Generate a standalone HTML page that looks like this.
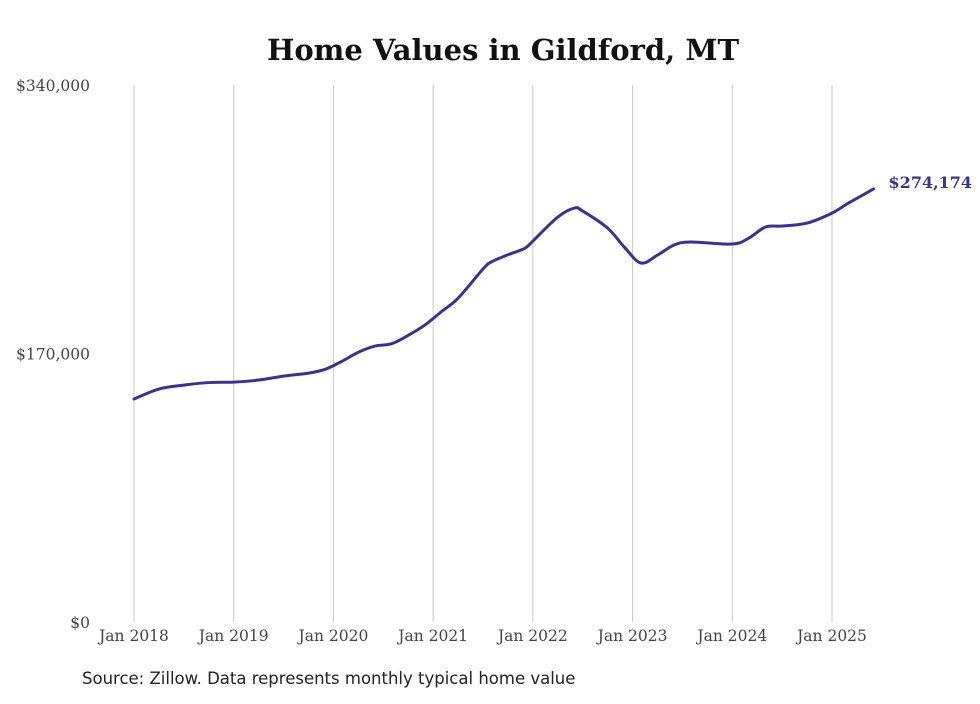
<!DOCTYPE html>
<html><head><meta charset="utf-8"><style>
body{margin:0;background:#fff;width:980px;height:699px;overflow:hidden}
svg text{font-family:"DejaVu Serif","Liberation Serif",serif}
</style></head><body>
<svg id="chart" width="980" height="699" viewBox="0 0 980 699">
<text x="503" y="60" text-anchor="middle" font-size="29" font-weight="bold" fill="#111">Home Values in Gildford, MT</text>
<g id="grid"></g><g id="yaxis"></g><g id="xaxis"></g><g id="series"></g>
<text x="82" y="684" font-size="16.5" fill="#222" style="font-family:'DejaVu Sans','Liberation Sans',sans-serif">Source: Zillow. Data represents monthly typical home value</text>
</svg>
<script>
const monthIdx=[0,3,6,9,12,15,18,21,23,25,27,29,31,33,35,37,39,42,43,45,47,48,51,53,54,57,59,61,63,65,67,72,74,76,78,81,84,86,89];
const values=[141200,147500,150000,151600,151900,153200,155700,157600,160000,165000,170800,174700,176200,181500,188000,196500,205000,223500,228000,232500,236500,241200,256400,262100,260200,249400,237400,227300,232300,238700,240600,239300,243100,250100,250700,252600,258900,265300,274174];
const yTicks=[0,170000,340000];
const yTickLabels=["$0","$170,000","$340,000"];
const xTickMonths=[0,12,24,36,48,60,72,84];
const xTickLabels=["Jan 2018","Jan 2019","Jan 2020","Jan 2021","Jan 2022","Jan 2023","Jan 2024","Jan 2025"];
const lastLabel="$274,174";
const NS="http://www.w3.org/2000/svg";
const X=m=>134+m*(698/84);
const Y=v=>622-v/340000*537;
function mk(t,a,p){const e=document.createElementNS(NS,t);for(const k in a)e.setAttribute(k,a[k]);p.appendChild(e);return e;}
const grid=document.getElementById('grid'),xa=document.getElementById('xaxis'),ya=document.getElementById('yaxis'),se=document.getElementById('series');
xTickMonths.forEach((m,i)=>{
 const l=mk('line',{x1:X(m),x2:X(m),y1:85,y2:622,stroke:'#c8c8c8','stroke-width':1},grid);
 
 
 const t=mk('text',{x:X(m),y:641,'text-anchor':'middle','font-size':15.5,fill:'#444'},xa);
 t.textContent=xTickLabels[i];
 
 
});
yTicks.forEach((v,i)=>{
 const t=mk('text',{x:90,y:Y(v)+6,'text-anchor':'end','font-size':15.5,fill:'#444'},ya);
 t.textContent=yTickLabels[i];
 
 
});
const pts=monthIdx.map((m,i)=>[X(m),Y(values[i])]);
let d='M'+pts[0][0]+','+pts[0][1];
for(let i=0;i<pts.length-1;i++){
 const p0=pts[Math.max(0,i-1)],p1=pts[i],p2=pts[i+1],p3=pts[Math.min(pts.length-1,i+2)];
 const k=6;
 d+=' C'+(p1[0]+(p2[0]-p0[0])/k)+','+(p1[1]+(p2[1]-p0[1])/k)+' '+(p2[0]-(p3[0]-p1[0])/k)+','+(p2[1]-(p3[1]-p1[1])/k)+' '+p2[0]+','+p2[1];
}
const path=mk('path',{d:d,fill:'none',stroke:'#3a309a','stroke-width':3,'stroke-linejoin':'round','stroke-linecap':'round'},se);


const last=pts[pts.length-1];
const lt=mk('text',{x:last[0]+15,y:last[1]-1,'font-size':16,'font-weight':'bold',fill:'#3a309a'},se);
lt.textContent=lastLabel;


</script>
</body></html>
